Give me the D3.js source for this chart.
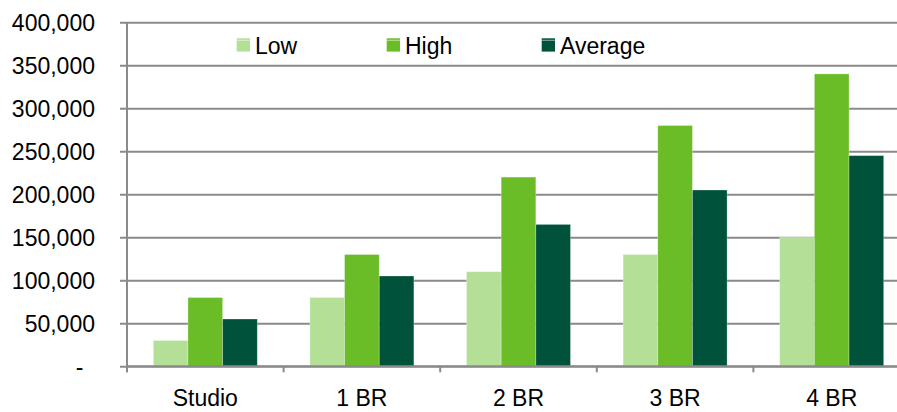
<!DOCTYPE html>
<html>
<head>
<meta charset="utf-8">
<script src="https://cdn.jsdelivr.net/npm/d3@7/dist/d3.min.js"></script>
<style>
  html, body { margin: 0; padding: 0; background: #fff; overflow: hidden; }
  svg { display: block; }
  text { font-family: Arial, "Liberation Sans", sans-serif; fill: #000; }
</style>
</head>
<body>
<svg id="chart" width="897" height="412"></svg>
<script>
// Price ranges by unit size
const categories = ["Studio", "1 BR", "2 BR", "3 BR", "4 BR"];
const seriesNames = ["Low", "High", "Average"];
const lowValues = [30000, 80000, 110000, 130000, 150000];
const highValues = [80000, 130000, 220000, 280000, 340000];
const averageValues = [55000, 105000, 165000, 205000, 245000];
const seriesColors = ["#b3df96", "#6abd27", "#00533a"];
const yTicks = [0, 50000, 100000, 150000, 200000, 250000, 300000, 350000, 400000];

const seriesValues = [lowValues, highValues, averageValues];

const svg = d3.select("#chart");
const plot = { left: 127, right: 910, top: 22.3, bottom: 366.3 };

const x = d3.scaleBand().domain(categories).range([plot.left, plot.right]).padding(0);
const groupWidth = x.bandwidth() * 0.664;
const xInner = d3.scaleBand().domain(seriesNames)
  .range([(x.bandwidth() - groupWidth) / 2, (x.bandwidth() + groupWidth) / 2]).padding(0);
const y = d3.scaleLinear().domain([0, 400000]).range([plot.bottom, plot.top]);

const fmt = d => d === 0 ? "-" : d3.format(",")(d);

// Horizontal gridlines with short outside ticks
const yAxis = svg.append("g")
  .attr("transform", `translate(${plot.left},0)`)
  .call(d3.axisLeft(y).tickValues(yTicks).tickSize(-(plot.right - plot.left)).tickSizeOuter(0).tickFormat(fmt));
yAxis.select(".domain").remove();
yAxis.selectAll(".tick line").attr("stroke", "#8a8a8a").attr("stroke-width", 2).attr("x1", -7);
yAxis.selectAll(".tick text")
  .style("font-size", "23px")
  .attr("x", d => d === 0 ? -43.5 : -32)
  .attr("dy", "0.36em");

// Bars
const groups = svg.append("g").selectAll("g")
  .data(categories)
  .join("g")
  .attr("transform", d => `translate(${x(d)},0)`);

groups.selectAll("rect")
  .data((c, i) => seriesNames.map((s, j) => ({ series: s, value: seriesValues[j][i], color: seriesColors[j] })))
  .join("rect")
  .attr("x", d => xInner(d.series))
  .attr("width", xInner.bandwidth())
  .attr("y", d => y(d.value))
  .attr("height", d => y(0) - y(d.value))
  .attr("fill", d => d.color)
  .attr("stroke", "rgba(255,255,255,0.35)")
  .attr("stroke-width", 0.8);

// Category axis along zero
const xAxis = svg.append("g")
  .attr("transform", `translate(0,${plot.bottom})`);
xAxis.append("line")
  .attr("x1", plot.left).attr("x2", plot.right)
  .attr("stroke", "#8a8a8a").attr("stroke-width", 2);
const boundaries = categories.map(c => x(c)).concat([plot.right]);
xAxis.selectAll(".cat-tick")
  .data(boundaries)
  .join("line")
  .attr("class", "cat-tick")
  .attr("x1", d => d).attr("x2", d => d)
  .attr("y1", 0).attr("y2", 6)
  .attr("stroke", "#8a8a8a").attr("stroke-width", 2);
xAxis.selectAll(".cat-label")
  .data(categories)
  .join("text")
  .attr("class", "cat-label")
  .attr("x", d => x(d) + x.bandwidth() / 2)
  .attr("y", 40)
  .attr("text-anchor", "middle")
  .style("font-size", "23px")
  .text(d => d);

// Vertical value axis line
svg.append("line")
  .attr("x1", plot.left).attr("x2", plot.left)
  .attr("y1", plot.top).attr("y2", plot.bottom + 6)
  .attr("stroke", "#8a8a8a").attr("stroke-width", 2);

// Legend
const legendX = [236.7, 386.7, 541.7];
const legend = svg.append("g").selectAll("g")
  .data(seriesNames)
  .join("g")
  .attr("transform", (d, i) => `translate(${legendX[i]},38.3)`);
legend.append("rect")
  .attr("width", 13.3).attr("height", 13.3)
  .attr("fill", (d, i) => seriesColors[i]);
legend.append("line")
  .attr("x1", 0).attr("x2", 13.3).attr("y1", 2).attr("y2", 2)
  .attr("stroke", "rgba(255,255,255,0.55)").attr("stroke-width", 1);
legend.append("text")
  .attr("x", 18.3).attr("y", 15.3)
  .style("font-size", "23px")
  .text(d => d);
</script>
</body>
</html>
